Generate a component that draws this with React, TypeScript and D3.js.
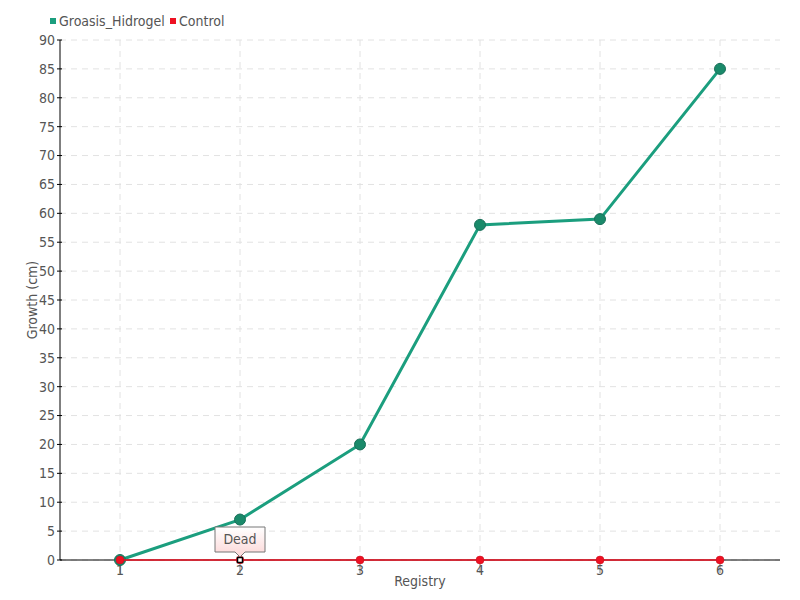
import React from "react";
import * as d3 from "d3";

const categories = ["1", "2", "3", "4", "5", "6"];
const groasisValues = [0, 7, 20, 58, 59, 85];
const controlValues = [0, 0, 0, 0, 0, 0];
const yTicks = d3.range(0, 91, 5);
const seriesNames = ["Groasis_Hidrogel", "Control"];
const annotationText = "Dead";
const annotationIndex = 1;

const W = 800, H = 600;
const margin = { left: 60, right: 20, top: 40, bottom: 40 };
const FONT = "'DejaVu Sans Condensed', 'DejaVu Sans', sans-serif";

export default function App() {
  const x = d3.scaleBand().domain(categories).range([margin.left, W - margin.right]);
  const y = d3.scaleLinear().domain([0, 90]).range([H - margin.bottom, margin.top]);
  const cx = (c: string) => (x(c) as number) + x.bandwidth() / 2;
  const line = d3.line<number>().x((_, i) => cx(categories[i])).y((d) => y(d));
  const green = "#1b9e7e";
  const red = "#ee1122";
  const ax = cx(categories[annotationIndex]);
  const ay = y(controlValues[annotationIndex]);
  return (
    <svg width={W} height={H} style={{ display: "block", position: "absolute", left: 0, top: 0, fontStretch: "condensed" }} fontFamily={FONT}>
      <defs>
        <linearGradient id="tipg" x1="0" y1="0" x2="0" y2="1">
          <stop offset="0" stopColor="#ffffff" />
          <stop offset="1" stopColor="#fcd6d6" />
        </linearGradient>
      </defs>
      <rect width={W} height={H} fill="#fff" />
      {/* grid */}
      {yTicks.map((t) => (
        <line key={"gy" + t} x1={margin.left} x2={W - margin.right} y1={y(t)} y2={y(t)} stroke="#e2e2e2" strokeDasharray="6,5" />
      ))}
      {categories.map((c) => (
        <line key={"gx" + c} x1={cx(c)} x2={cx(c)} y1={margin.top} y2={H - margin.bottom} stroke="#e2e2e2" strokeDasharray="6,5" />
      ))}
      {/* axes */}
      <line x1={margin.left} x2={margin.left} y1={margin.top} y2={H - margin.bottom} stroke="#000" />
      <line x1={margin.left} x2={W - margin.right} y1={H - margin.bottom} y2={H - margin.bottom} stroke="#000" />
      {yTicks.map((t) => (
        <g key={"ty" + t}>
          <line x1={margin.left - 3} x2={margin.left + 2} y1={y(t)} y2={y(t)} stroke="#000" />
          <text x={margin.left - 5} y={y(t)} dy="0.35em" textAnchor="end" fontSize={14} fill="#555">{t}</text>
        </g>
      ))}
      {categories.map((c) => (
        <g key={"tx" + c}>
          <line x1={cx(c)} x2={cx(c)} y1={H - margin.bottom} y2={H - margin.bottom + 13} stroke="#888" />
          <text x={cx(c)} y={H - margin.bottom + 15} textAnchor="middle" fontSize={14} fill="#555">{c}</text>
        </g>
      ))}
      <text x={(margin.left + W - margin.right) / 2} y={586} textAnchor="middle" fontSize={14} fill="#555">Registry</text>
      <text transform={`translate(37,${(margin.top + H - margin.bottom) / 2}) rotate(-90)`} textAnchor="middle" fontSize={14} fill="#555">Growth (cm)</text>
      {/* series */}
      <path d={line(groasisValues) || ""} fill="none" stroke={green} strokeWidth={3} />
      {groasisValues.map((v, i) => (
        <circle key={"g" + i} cx={cx(categories[i])} cy={y(v)} r={5.5} fill="#1a8a6a" stroke="#19705a" strokeWidth={1} />
      ))}
      <path d={line(controlValues) || ""} fill="none" stroke={red} strokeWidth={1.5} />
      {controlValues.map((v, i) =>
        i === annotationIndex ? (
          <g key={"c" + i}>
            <circle cx={cx(categories[i])} cy={y(v)} r={4} fill={red} />
            <rect x={cx(categories[i]) - 2.5} y={y(v) - 2.5} width={5} height={5} fill="#fff" stroke="#000" strokeWidth={1.5} />
          </g>
        ) : (
          <circle key={"c" + i} cx={cx(categories[i])} cy={y(v)} r={4} fill={red} stroke="#c01020" strokeWidth={0.5} />
        )
      )}
      {/* annotation */}
      <path
        d={`M${ax - 25},${ay - 33} H${ax + 25} V${ay - 8} H${ax + 5} L${ax},${ay - 3} L${ax - 5},${ay - 8} H${ax - 25} Z`}
        fill="url(#tipg)"
        stroke="#777"
      />
      <text x={ax} y={ay - 16} textAnchor="middle" fontSize={14} fill="#555">{annotationText}</text>
      {/* legend */}
      <g>
        <rect x={50} y={18} width={6} height={6} fill={green} />
        <text x={59} y={21} dy="0.35em" fontSize={14} fill="#555">{seriesNames[0]}</text>
        <rect x={170} y={18} width={6} height={6} fill={red} />
        <text x={179} y={21} dy="0.35em" fontSize={14} fill="#555">{seriesNames[1]}</text>
      </g>
    </svg>
  );
}
